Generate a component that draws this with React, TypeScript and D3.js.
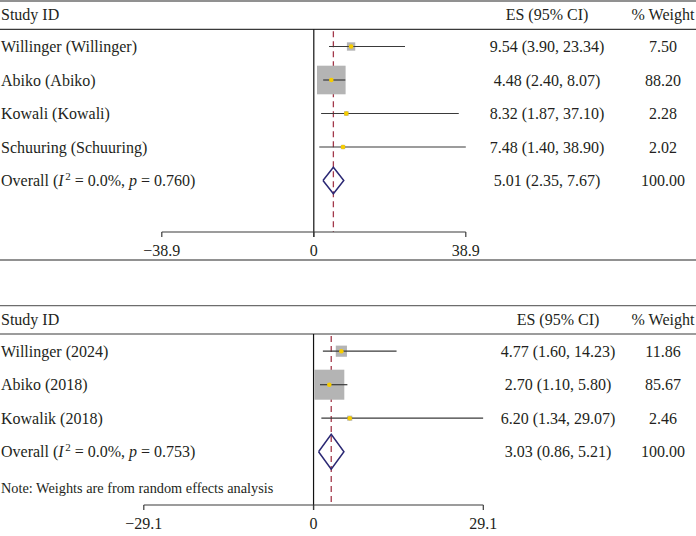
import React from 'react';
import * as d3 from 'd3';

// Upper forest plot
const studiesA = ['Willinger (Willinger)', 'Abiko (Abiko)', 'Kowali (Kowali)', 'Schuuring (Schuuring)'];
const esA = [9.54, 4.48, 8.32, 7.48];
const lowA = [3.9, 2.4, 1.87, 1.4];
const highA = [23.34, 8.07, 37.1, 38.9];
const weightA = [7.5, 88.2, 2.28, 2.02];
const overallA = [5.01, 2.35, 7.67]; // es, low, high
const hetA = ['0.0%', '0.760'];
const ticksA = [-38.9, 0, 38.9];

// Lower forest plot
const studiesB = ['Willinger (2024)', 'Abiko (2018)', 'Kowalik (2018)'];
const esB = [4.77, 2.7, 6.2];
const lowB = [1.6, 1.1, 1.34];
const highB = [14.23, 5.8, 29.07];
const weightB = [11.86, 85.67, 2.46];
const overallB = [3.03, 0.86, 5.21];
const hetB = ['0.0%', '0.753'];
const ticksB = [-29.1, 0, 29.1];

const FONT = '"Liberation Serif", "Times New Roman", serif';
const TEXT = '#231f20';
const fmt = d3.format('.2f');
const tickFmt = (v: number) => (v < 0 ? '\u2212' + d3.format('.1f')(-v) : v === 0 ? '0' : d3.format('.1f')(v));

type PanelProps = {
  top: number;
  studies: string[];
  es: number[];
  low: number[];
  high: number[];
  weight: number[];
  overall: number[];
  het: string[];
  ticks: number[];
  range: [number, number];
  boxMax: number;
  axisY: number;
  diamondHalf: number;
  esX: number;
  note?: string;
  bottomLine?: number;
};

function ForestPanel(p: PanelProps) {
  const x = d3.scaleLinear().domain([p.ticks[0], p.ticks[p.ticks.length - 1]]).range(p.range);
  const rowY = (i: number) => p.top + 45.5 + i * 33.5;
  const box = d3.scaleSqrt().domain([0, d3.max(p.weight) as number]).range([0, p.boxMax]);
  const headerLine = p.top + 28.3;
  const axisY = p.axisY;
  const overallY = rowY(p.studies.length);
  const [oEs, oLow, oHigh] = p.overall;
  const diamond = d3.line()([
    [x(oLow), overallY],
    [x(oEs), overallY - p.diamondHalf],
    [x(oHigh), overallY],
    [x(oEs), overallY + p.diamondHalf],
    [x(oLow), overallY],
  ]) as string;
  const wX = 663;

  return (
    <g fontFamily={FONT} fontSize={16} fill={TEXT}>
      <line x1={0} x2={696} y1={p.top} y2={p.top} stroke="#6d6d6d" strokeWidth={1.3} />
      <text x={1} y={p.top + 19}>Study ID</text>
      <text x={p.esX} y={p.top + 19} textAnchor="middle">ES (95% CI)</text>
      <text x={wX} y={p.top + 19} textAnchor="middle">% Weight</text>
      <line x1={0} x2={696} y1={headerLine} y2={headerLine} stroke="#3a3a3a" strokeWidth={1.2} />

      {/* zero reference */}
      <line x1={x(0)} x2={x(0)} y1={headerLine} y2={axisY + 5} stroke="#111" strokeWidth={1.2} />
      {/* pooled estimate */}
      <line
        x1={x(oEs)}
        x2={x(oEs)}
        y1={headerLine + 2}
        y2={axisY}
        stroke="#a3384a"
        strokeWidth={1.3}
        strokeDasharray="6,4"
      />

      {p.studies.map((s, i) => {
        const y = rowY(i);
        const side = box(p.weight[i]);
        return (
          <g key={s}>
            <text x={1} y={y + 5.5}>{s}</text>
            <rect x={x(p.es[i]) - side / 2} y={y - side / 2} width={side} height={side} fill="#b4b4b4" />
            <line x1={x(p.low[i])} x2={x(p.high[i])} y1={y} y2={y} stroke="#3a3a3a" strokeWidth={1.2} />
            <circle cx={x(p.es[i])} cy={y} r={2.3} fill="#f7cd00" />
            <text x={p.esX} y={y + 5.5} textAnchor="middle">
              {`${fmt(p.es[i])} (${fmt(p.low[i])}, ${fmt(p.high[i])})`}
            </text>
            <text x={wX} y={y + 5.5} textAnchor="middle">{fmt(p.weight[i])}</text>
          </g>
        );
      })}

      <text x={1} y={overallY + 5.5}>
        <tspan>Overall (</tspan>
        <tspan fontStyle="italic">I</tspan>
        <tspan dy={-6} fontSize={11} dx={1.5}>2</tspan>
        <tspan dy={6}>{` = ${p.het[0]}, `}</tspan>
        <tspan fontStyle="italic">p</tspan>
        <tspan>{` = ${p.het[1]})`}</tspan>
      </text>
      <path d={diamond} fill="none" stroke="#2b2874" strokeWidth={1.5} />
      <text x={p.esX} y={overallY + 5.5} textAnchor="middle">
        {`${fmt(oEs)} (${fmt(oLow)}, ${fmt(oHigh)})`}
      </text>
      <text x={wX} y={overallY + 5.5} textAnchor="middle">{fmt(100)}</text>

      {p.note && (
        <text x={1} y={p.top + 187.5} fontSize={14.3}>{p.note}</text>
      )}

      {/* axis */}
      <line x1={x(p.ticks[0])} x2={x(p.ticks[p.ticks.length - 1])} y1={axisY} y2={axisY} stroke="#3a3a3a" strokeWidth={1.2} />
      {p.ticks.map((t) => (
        <g key={t}>
          <line x1={x(t)} x2={x(t)} y1={axisY} y2={axisY + 5} stroke="#3a3a3a" strokeWidth={1.2} />
          <text x={x(t)} y={axisY + 23.5} textAnchor="middle">{tickFmt(t)}</text>
        </g>
      ))}

      {p.bottomLine !== undefined && (
        <line x1={0} x2={696} y1={p.bottomLine} y2={p.bottomLine} stroke="#6d6d6d" strokeWidth={1.3} />
      )}
    </g>
  );
}

export default function App() {
  return (
    <div style={{ position: 'absolute', left: 0, top: 0 }}>
      <svg width={696} height={536} style={{ display: 'block', background: '#fff' }}>
        <ForestPanel
          top={1}
          studies={studiesA}
          es={esA}
          low={lowA}
          high={highA}
          weight={weightA}
          overall={overallA}
          het={hetA}
          ticks={ticksA}
          range={[161.8, 465.8]}
          boxMax={28.6}
          axisY={232}
          diamondHalf={13.3}
          esX={547}
          bottomLine={260}
        />
        <ForestPanel
          top={305.7}
          studies={studiesB}
          es={esB}
          low={lowB}
          high={highB}
          weight={weightB}
          overall={overallB}
          het={hetB}
          ticks={ticksB}
          range={[143.8, 483.3]}
          boxMax={30}
          axisY={505}
          diamondHalf={17.5}
          esX={558}
          note="Note: Weights are from random effects analysis"
        />
      </svg>
    </div>
  );
}
